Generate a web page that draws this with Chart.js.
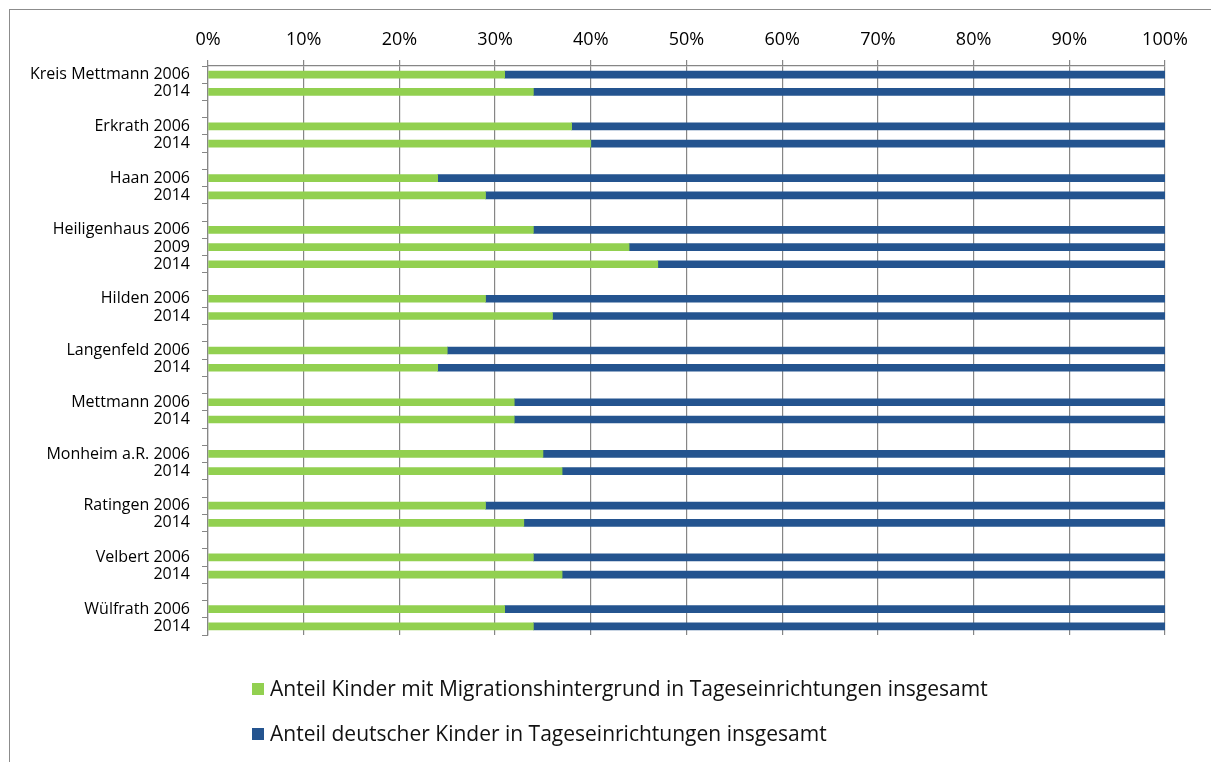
<!DOCTYPE html>
<html>
<head>
<meta charset="utf-8">
<script src="https://cdn.jsdelivr.net/npm/chart.js@4/dist/chart.umd.min.js"></script>
<style>
  html, body { margin: 0; padding: 0; background: #fff; }
  #wrap { position: relative; width: 1211px; height: 762px; overflow: hidden; }
  #frame { position: absolute; left: 9px; top: 9px; width: 1400px; height: 900px; border: 1px solid #8c8c8c; box-sizing: border-box; }
  canvas { position: absolute; left: 0; top: 0; }
  .leg { position: absolute; left: 252px; font-family: "Open Sans", sans-serif; font-size: 21px; color: #111; white-space: nowrap; }
  .leg .box { position: absolute; left: 0; width: 12px; height: 12px; }
  .leg .txt { position: absolute; left: 18px; line-height: 20px; }
</style>
</head>
<body>
<div id="wrap">
  <div id="frame"></div>
  <canvas id="c" width="1211" height="762"></canvas>
  <div class="leg" style="top:683px"><span class="box" style="background:#92D050;top:0"></span><span class="txt" style="top:-5px">Anteil Kinder mit Migrationshintergrund in Tageseinrichtungen insgesamt</span></div>
  <div class="leg" style="top:728px"><span class="box" style="background:#24548F;top:0"></span><span class="txt" style="top:-5px">Anteil deutscher Kinder in Tageseinrichtungen insgesamt</span></div>
</div>
<script>
const categories = [
  "Kreis Mettmann 2006", "2014", "",
  "Erkrath 2006", "2014", "",
  "Haan 2006", "2014", "",
  "Heiligenhaus 2006", "2009", "2014", "",
  "Hilden 2006", "2014", "",
  "Langenfeld 2006", "2014", "",
  "Mettmann 2006", "2014", "",
  "Monheim a.R. 2006", "2014", "",
  "Ratingen 2006", "2014", "",
  "Velbert 2006", "2014", "",
  "Wülfrath 2006", "2014"
];
const migrationShare = [
  31, 34, null,
  38, 40, null,
  24, 29, null,
  34, 44, 47, null,
  29, 36, null,
  25, 24, null,
  32, 32, null,
  35, 37, null,
  29, 33, null,
  34, 37, null,
  31, 34
];
const germanShare = [
  69, 66, null,
  62, 60, null,
  76, 71, null,
  66, 56, 53, null,
  71, 64, null,
  75, 76, null,
  68, 68, null,
  65, 63, null,
  71, 67, null,
  66, 63, null,
  69, 66
];
const seriesNames = [
  "Anteil Kinder mit Migrationshintergrund in Tageseinrichtungen insgesamt",
  "Anteil deutscher Kinder in Tageseinrichtungen insgesamt"
];
const xTickLabels = ["0%", "10%", "20%", "30%", "40%", "50%", "60%", "70%", "80%", "90%", "100%"];

Chart.defaults.font.family = "'Open Sans', sans-serif";
Chart.defaults.color = "#000";

new Chart(document.getElementById("c"), {
  type: "bar",
  data: {
    labels: categories,
    datasets: [
      { label: seriesNames[0], data: migrationShare, backgroundColor: "#92D050", barThickness: 7, borderWidth: 0 },
      { label: seriesNames[1], data: germanShare, backgroundColor: "#24548F", barThickness: 7, borderWidth: 0 }
    ]
  },
  options: {
    indexAxis: "y",
    responsive: false,
    animation: false,
    layout: { padding: { left: 0, top: 20, right: 46, bottom: 127 } },
    plugins: { legend: { display: false }, tooltip: { enabled: false } },
    scales: {
      x: {
        position: "top",
        stacked: true,
        min: 0, max: 100,
        ticks: { stepSize: 10, padding: 9, font: { size: 18 }, callback: (v, i) => xTickLabels[i] },
        grid: { color: "#868686", lineWidth: 1.2, tickLength: 6 },
        border: { color: "#868686", width: 1.2 },
        afterFit: s => { s.height = 46; }
      },
      y: {
        stacked: true,
        ticks: { padding: 12, font: { size: 16 }, autoSkip: false },
        grid: { drawOnChartArea: false, color: "#868686", tickLength: 6, offset: true },
        border: { color: "#868686", width: 1.2 },
        afterFit: s => { s.width = 208; }
      }
    }
  }
});
</script>
</body>
</html>
